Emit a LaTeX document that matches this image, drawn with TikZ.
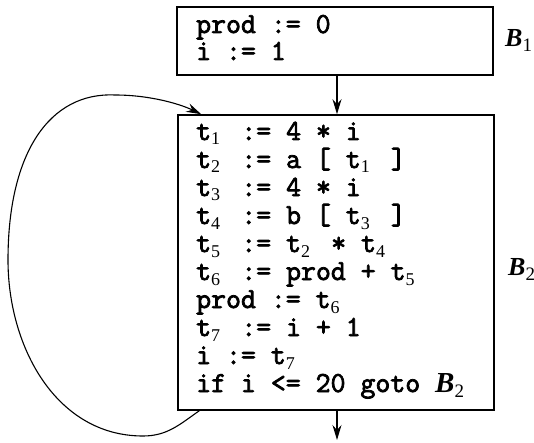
\documentclass[tikz,border=0pt]{standalone}
\usepackage{fontspec}
\newfontfamily\serifb{Liberation Serif}
\newfontfamily\codefont{Latin Modern Mono}[FakeBold=2.6]
\usetikzlibrary{arrows.meta,calc}
\newcommand\sbt[1]{\makebox[0.525em][l]{\smash{\raisebox{-5pt}{\serifb\fontsize{18}{18}\selectfont #1}}}}
\newcommand\blab[1]{{\serifb\bfseries\itshape B}\smash{\raisebox{-5pt}{\serifb\fontsize{19}{19}\selectfont #1}}}
\tikzset{
  blockbox/.style={draw, line width=1.6pt, inner sep=0pt},
  codeline/.style={anchor=base west, inner sep=0pt, font=\codefont\fontsize{29}{28}\selectfont},
  blocklabel/.style={anchor=base west, inner sep=0pt, font=\fontsize{26}{28}\selectfont},
  flow/.style={line width=1.1pt, -{Stealth[length=15pt,width=9pt,inset=5pt]}}
}
\begin{document}
\begin{tikzpicture}[x=1pt,y=1pt]
\useasboundingbox (0,0) rectangle (534,442);
% blocks
\node[blockbox, minimum width=316pt, minimum height=68pt] (b1) at (335,401) {};
\node[blockbox, minimum width=316pt, minimum height=295pt] (b2) at (336,179.5) {};
% B1 code
\node[codeline] (p1) at (196,409) {prod := 0};
\node[codeline] (p2) at (196,382) {i := 1};
% B2 code
\node[codeline] (c1) at (196,302) {t\sbt{1} := 4 * i};
\node[codeline] (c2) at (196,274) {t\sbt{2} := a [ t\sbt{1} ]};
\node[codeline] (c3) at (196,246) {t\sbt{3} := 4 * i};
\node[codeline] (c4) at (196,218) {t\sbt{4} := b [ t\sbt{3} ]};
\node[codeline] (c5) at (196,190) {t\sbt{5} := t\sbt{2} * t\sbt{4}};
\node[codeline] (c6) at (196,162) {t\sbt{6} := prod + t\sbt{5}};
\node[codeline] (c7) at (196,134) {prod := t\sbt{6}};
\node[codeline] (c8) at (196,106) {t\sbt{7} := i + 1};
\node[codeline] (c9) at (196,78) {i := t\sbt{7}};
\node[codeline] (c10) at (196,50) {if i <= 20 goto \blab{2}};
% labels
\node[blocklabel] (l1) at (505,395) {\blab{1}};
\node[blocklabel] (l2) at (508,167) {\blab{2}};
% connectors
\coordinate (out) at (337,2);
\draw[flow] (b1.south -| 337,0) -- (b2.north -| 337,0);
\draw[flow] (b2.south -| 337,0) -- (out);
\coordinate (lb) at (143,6);
\coordinate (ll) at (8,182);
\coordinate (lt) at (115,347);
\draw[flow] ($(b2.south west)+(22,0)$) to[out=215,in=0] (lb)
  to[out=180,in=270] (ll) .. controls (8,290) and (50,350) .. (lt)
  .. controls (150,347) and (180,338) .. ($(b2.north west)+(24,0)$);
\end{tikzpicture}
\end{document}
